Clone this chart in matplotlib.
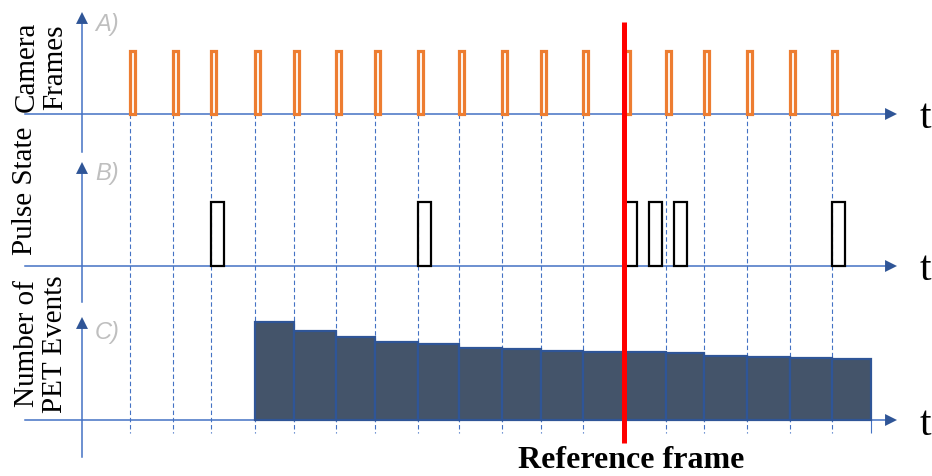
import numpy as np
import matplotlib.pyplot as plt

# frame start times (time units, y-axis at t = 0)
frame_times = [48, 91, 129, 173, 212, 254, 293, 336, 377, 420, 459, 501, 543, 584, 622, 665, 708, 750]
last_frame_end = 789
exposure = 5
# laser pulses
pulse_times = [129, 336, 542, 567, 592, 750]
pulse_len = 13
# PET events per frame, starting at frame index 3
events_start = 3
pet_events = [98, 89, 83, 78, 76, 72, 71, 69, 68, 68, 67, 64, 63, 62, 61]
ref_time = 541.5

W, H = 932, 477
XLIM = (-82, 850)
serif = "Liberation Serif"
axis_blue = "#4472C4"
head_blue = "#2F5597"

fig = plt.figure(figsize=(W / 100, H / 100), dpi=100)


def layer(base=None, unit=1.0):
    # full-figure transparent axes; base = pixel row of the zero line
    ax = fig.add_axes([0, 0, 1, 1])
    ax.set_xlim(*XLIM)
    if base is None:
        ax.set_ylim(H, 0)
    else:
        ax.set_ylim(-(H - base) / unit, base / unit)
    ax.axis("off")
    ax.patch.set_alpha(0)
    return ax


under = layer()
under.vlines(frame_times, 115, 434, colors=axis_blue, lw=0.8, linestyles=(0, (4, 2.5)))
under.vlines([last_frame_end], 421, 434, colors=axis_blue, lw=0.8)

head = dict(arrowstyle="-|>,head_length=0.86,head_width=0.43", mutation_scale=10,
            color=head_blue, shrinkA=0, shrinkB=0, lw=0)
for base, top, bottom in [(115, 13, 153), (267, 163, 303), (421, 318, 458)]:
    under.plot([-57, 805], [base, base], color=axis_blue, lw=1.1)
    under.annotate("", xy=(815, base), xytext=(803, base), arrowprops=head)
    under.plot([0, 0], [bottom, top + 10], color=axis_blue, lw=1.1)
    under.annotate("", xy=(0, top), xytext=(0, top + 12), arrowprops=head)

ax_a = layer(115, 63)
ax_a.bar(frame_times, 1, width=exposure, align="edge", fill=False,
         edgecolor="#ED7D31", lw=2.3)

ax_b = layer(267, 64)
ax_b.bar(pulse_times, 1, width=pulse_len, align="edge", fill=False,
         edgecolor="black", lw=1.6)

ax_c = layer(421, 1)
starts = frame_times[events_start:]
widths = np.diff(starts + [last_frame_end])
ax_c.bar(starts, pet_events, width=widths, align="edge", color="#44546A",
         edgecolor=head_blue, lw=1.6)

over = layer()
over.vlines([ref_time], 23, 444, colors="red", lw=3.6)

lab = dict(rotation=90, ha="center", va="center", fontsize=21, family=serif,
           linespacing=1.1, multialignment="center")
fig.text(41 / W, 1 - 67 / H, "Camera\nFrames", **lab)
fig.text(25 / W, 1 - 191 / H, "Pulse State", **lab)
fig.text(41 / W, 1 - 344 / H, "Number of\nPET Events", **lab)

for txt, y in [("A)", 25), ("B)", 174), ("C)", 333)]:
    fig.text(95 / W, 1 - y / H, txt, ha="left", va="center", fontsize=17,
             style="italic", color="#BFBFBF", family="Liberation Sans")

for y in [128, 280, 435]:
    fig.text(925 / W, 1 - y / H, "t", ha="center", va="baseline", fontsize=30, family=serif)

fig.text(631 / W, 1 - 468 / H, "Reference frame", ha="center", va="baseline",
         fontsize=23, weight="bold", family=serif)

fig.savefig("out.png", dpi=100)
